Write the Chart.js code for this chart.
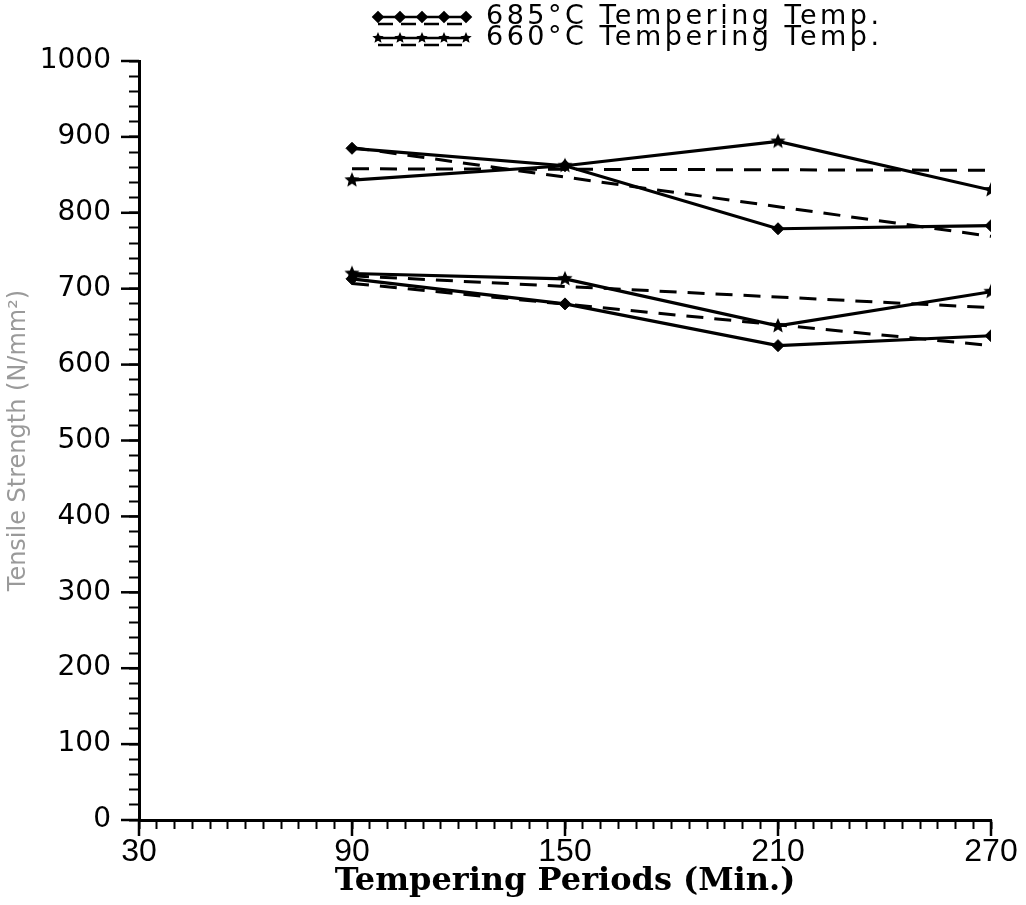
<!DOCTYPE html>
<html><head><meta charset="utf-8">
<script src="https://cdn.jsdelivr.net/npm/chart.js@4.4.1/dist/chart.umd.min.js"></script>
<style>html,body{margin:0;padding:0;background:#fff;} canvas{display:block;}</style>
</head><body>
<canvas id="c" width="1026" height="905"></canvas>
<script>
// ---- data ----
const periods = [90, 150, 210, 270];
const upper685 = [885, 862, 779, 783];
const lower685 = [713, 680, 625, 638];
const upper660 = [843, 862, 894, 830];
const lower660 = [720, 713, 651, 696];
const trendPeriods = [90, 270];
const trendUpper685 = [886, 769];
const trendLower685 = [707, 625];
const trendUpper660 = [858, 856];
const trendLower660 = [717, 675];
const xTickLabels = [30, 90, 150, 210, 270];
const yTickLabels = [0, 100, 200, 300, 400, 500, 600, 700, 800, 900, 1000];
const legendLabels = ['685°C Tempering Temp.', '660°C Tempering Temp.'];
const xTitle = 'Tempering Periods (Min.)';
const yTitle = 'Tensile Strength (N/mm²)';

function makeStar(r) {
  const s = Math.ceil(r * 2 + 2);
  const c = document.createElement('canvas');
  c.width = s; c.height = s;
  const g = c.getContext('2d');
  g.fillStyle = '#000';
  g.beginPath();
  for (let i = 0; i < 10; i++) {
    const a = -Math.PI / 2 + i * Math.PI / 5;
    const rr = (i % 2) ? r * 0.45 : r;
    g.lineTo(s / 2 + rr * Math.cos(a), s / 2 + rr * Math.sin(a));
  }
  g.closePath();
  g.fill();
  return c;
}
const starImg = makeStar(8);
const starSmall = makeStar(6);

const pts = (xs, ys) => xs.map((x, i) => ({ x: x, y: ys[i] }));

function solidSet(label, xs, ys, style) {
  return {
    label: label, data: pts(xs, ys), borderColor: '#000', backgroundColor: '#000',
    borderWidth: 3.2, pointStyle: style, pointRadius: 6, pointHoverRadius: 6,
    pointBorderWidth: 1, fill: false, tension: 0
  };
}
function dashSet(label, xs, ys) {
  return {
    label: label, data: pts(xs, ys), borderColor: '#000', borderWidth: 3,
    borderDash: [17, 11], pointRadius: 0, fill: false, tension: 0
  };
}

const legendPlugin = {
  id: 'refLegend',
  afterDraw(chart) {
    const ctx = chart.ctx;
    const x = chart.scales.x, y = chart.scales.y;
    ctx.save();
    ctx.strokeStyle = '#000';
    ctx.fillStyle = '#000';
    // major ticks (longer)
    ctx.lineWidth = 2.5;
    xTickLabels.forEach(v => {
      const px = x.getPixelForValue(v);
      ctx.beginPath(); ctx.moveTo(px, x.top); ctx.lineTo(px, x.top + 16); ctx.stroke();
    });
    yTickLabels.forEach(v => {
      const py = y.getPixelForValue(v);
      ctx.beginPath(); ctx.moveTo(y.right, py); ctx.lineTo(y.right - 18, py); ctx.stroke();
    });
    // legend
    const rows = [
      { y: 17, text: legendLabels[0], style: 'rectRot' },
      { y: 38, text: legendLabels[1], style: starSmall }
    ];
    rows.forEach(r => {
      ctx.setLineDash([]);
      ctx.lineWidth = 2.5;
      ctx.beginPath(); ctx.moveTo(376, r.y); ctx.lineTo(466, r.y); ctx.stroke();
      ctx.setLineDash([15, 8]);
      ctx.beginPath(); ctx.moveTo(378, r.y + 7); ctx.lineTo(466, r.y + 7); ctx.stroke();
      ctx.setLineDash([]);
      for (let k = 0; k < 5; k++) {
        Chart.helpers.drawPoint(ctx, { pointStyle: r.style, radius: 4.5, borderWidth: 1, rotation: 0 }, 378 + k * 22, r.y);
        ctx.fill();
      }
      ctx.font = '27px "DejaVu Sans"';
      ctx.textBaseline = 'middle';
      ctx.textAlign = 'left';
      try { ctx.letterSpacing = '3.5px'; } catch (e) {}
      ctx.fillText(r.text, 486, r.y);
      try { ctx.letterSpacing = '0px'; } catch (e) {}
    });
    ctx.restore();
  }
};

new Chart(document.getElementById('c'), {
  type: 'line',
  data: {
    datasets: [
      solidSet('685 upper', periods, upper685, 'rectRot'),
      solidSet('685 lower', periods, lower685, 'rectRot'),
      solidSet('660 upper', periods, upper660, starImg),
      solidSet('660 lower', periods, lower660, starImg),
      dashSet('685 upper trend', trendPeriods, trendUpper685),
      dashSet('685 lower trend', trendPeriods, trendLower685),
      dashSet('660 upper trend', trendPeriods, trendUpper660),
      dashSet('660 lower trend', trendPeriods, trendLower660)
    ]
  },
  options: {
    responsive: false,
    animation: false,
    layout: { padding: { top: 61, right: 35, bottom: 0, left: 0 } },
    plugins: { legend: { display: false }, tooltip: { enabled: false } },
    scales: {
      x: {
        type: 'linear', min: 30, max: 270,
        afterFit(s) { s.height = 85; },
        ticks: {
          stepSize: 5, autoSkip: false, maxRotation: 0, maxTicksLimit: 100,
          color: '#000', padding: 4,
          font: { family: '"Liberation Sans", Arial', size: 32 },
          callback: v => xTickLabels.includes(v) ? String(v) : ''
        },
        grid: { display: true, drawOnChartArea: false, drawTicks: true, tickLength: 9, tickWidth: 2, tickColor: '#000' },
        border: { display: true, color: '#000', width: 3 },
        title: { display: true, text: xTitle, color: '#000',
          font: { family: '"DejaVu Serif"', size: 32, weight: 'bold' },
          padding: { top: 0, bottom: 4 } }
      },
      y: {
        type: 'linear', min: 0, max: 1000,
        afterFit(s) { s.width = 139; },
        ticks: {
          stepSize: 20, autoSkip: false, maxTicksLimit: 100,
          color: '#000', padding: 18,
          font: { family: '"DejaVu Sans"', size: 28 },
          callback: v => yTickLabels.includes(v) ? String(v) : ''
        },
        grid: { display: true, drawOnChartArea: false, drawTicks: true, tickLength: 10, tickWidth: 2, tickColor: '#000' },
        border: { display: true, color: '#000', width: 3 },
        title: { display: true, text: yTitle, color: '#9a9a9a',
          font: { family: '"DejaVu Sans"', size: 24 },
          padding: { top: 4, bottom: 0 } }
      }
    }
  },
  plugins: [legendPlugin]
});
</script>
</body></html>
